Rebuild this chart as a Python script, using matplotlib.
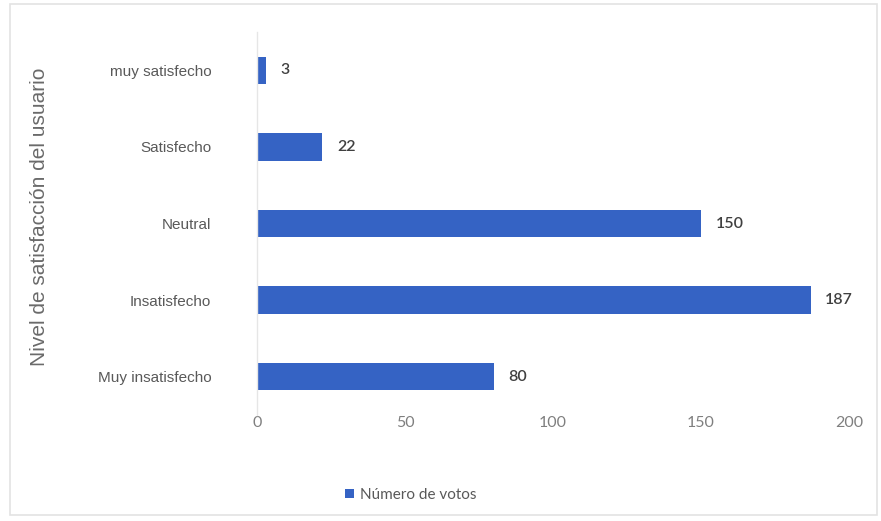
import matplotlib
matplotlib.use("Agg")
import matplotlib.pyplot as plt
from matplotlib.patches import Rectangle

categories = ["Muy insatisfecho", "Insatisfecho", "Neutral", "Satisfecho", "muy satisfecho"]
votes = [80, 187, 150, 22, 3]
xticks = [0, 50, 100, 150, 200]
series_name = "Número de votos"
ylabel = "Nivel de satisfacción del usuario"

bar_color = "#3563c4"
gray = "#595959"

fig = plt.figure(figsize=(8.81, 5.21), dpi=100)
fig.patch.set_facecolor("white")
fig.patches.append(Rectangle((10/881, 6/521), 867/881, 511/521, transform=fig.transFigure,
                             fill=False, edgecolor="#e3e3e3", linewidth=1.2))

ax = fig.add_axes([257/881, 1 - 415/521, 592/881, 383/521])
y = list(range(len(categories)))
bars = ax.barh(y, votes, height=0.36, color=bar_color, label=series_name)
ax.set_ylim(-0.5, len(categories) - 0.5)
ax.set_xlim(0, 200)
ax.set_xticks(xticks)
ax.set_xticklabels([str(t) for t in xticks], fontfamily="Lato", fontsize=11.5, color="#7f7f7f")
ax.set_yticks(y)
ax.set_yticklabels(categories, fontfamily="Liberation Sans", fontsize=11, color=gray)
ax.tick_params(axis="y", length=0, pad=33)
ax.tick_params(axis="x", length=0, pad=0.5)
for s in ["top", "right", "bottom"]:
    ax.spines[s].set_visible(False)
ax.spines["left"].set_color("#e6e6e6")
ax.spines["left"].set_linewidth(1)

for b, v in zip(bars, votes):
    ax.text(b.get_width() + 5, b.get_y() + b.get_height() / 2, str(v),
            va="center", ha="left", fontfamily="Lato", fontsize=11.5,
            fontweight="semibold", color="#404040")

fig.text(40/881, 1 - 217/521, ylabel, rotation=90, ha="center", va="center",
         fontfamily="Liberation Sans", fontsize=15, color="#6a6a6a")

leg = fig.legend(handles=[bars], labels=[series_name], loc="center",
                 bbox_to_anchor=(411/881, 1 - 495/521), frameon=False,
                 handlelength=0.6, handleheight=0.6, handletextpad=0.4,
                 prop={"family": "Lato", "size": 11})
for t in leg.get_texts():
    t.set_color(gray)

fig.savefig("out.png", dpi=100, facecolor="white")
